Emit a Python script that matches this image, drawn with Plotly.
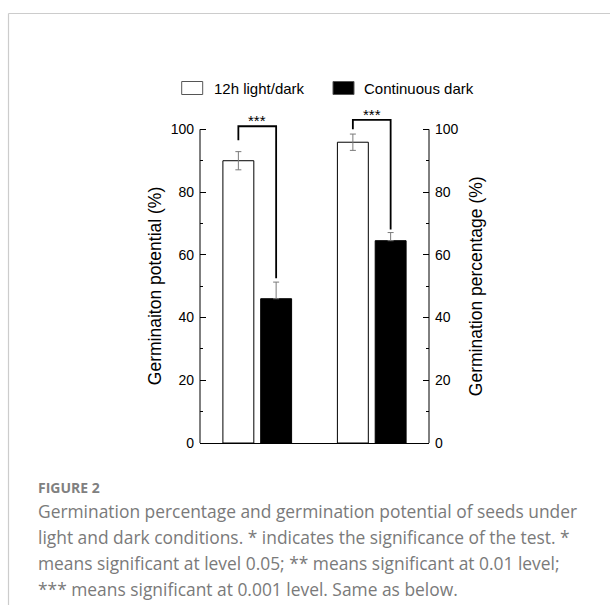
import plotly.graph_objects as go

# ---------------- data ----------------
groups = ["Germination potential", "Germination percentage"]
series_names = ["12h light/dark", "Continuous dark"]
light_vals = [90.0, 95.9]
light_err = [2.9, 2.6]
dark_vals = [46.0, 64.5]
dark_err = [5.3, 2.6]
sig_labels = ["***", "***"]
bracket_top = [101.0, 103.0]
bracket_left_end = [96.5, 100.0]
bracket_right_end = [52.5, 68.1]
y_ticks = [0, 20, 40, 60, 80, 100]
y_minor = [10, 30, 50, 70, 90]
left_title = "Germinaiton potential (%)"
right_title = "Germination percentage (%)"
caption_head = "FIGURE 2"
caption_lines = [
    "Germination percentage and germination potential of seeds under",
    "light and dark conditions. * indicates the significance of the test. *",
    "means significant at level 0.05; ** means significant at 0.01 level;",
    "*** means significant at 0.001 level. Same as below.",
]

# ---------------- geometry / style ----------------
W, H = 610, 605
ML, MR, MT, MB = 200, 181, 98, 162
BAR_W = 0.27
OFF_L, OFF_D = -0.30, 0.03
FONT = "Liberation Sans, Arial, sans-serif"
CAP_FONT = "Open Sans, Noto Sans, sans-serif"

pw = W - ML - MR
ph = H - MT - MB


def px_x(p):
    return (p - ML) / pw


def px_y(p):
    return (H - MB - p) / ph


fig = go.Figure()
axes = ["y", "y2"]
for i, ax in enumerate(axes):
    fig.add_trace(go.Bar(
        x=[i], y=[light_vals[i]], yaxis=ax, name=series_names[0],
        offset=OFF_L, width=BAR_W,
        marker=dict(color="white", line=dict(color="black", width=1)),
        error_y=dict(type="data", array=[light_err[i]], color="#7a7a7a",
                     thickness=1, width=3),
        showlegend=False,
    ))
    fig.add_trace(go.Bar(
        x=[i], y=[dark_vals[i]], yaxis=ax, name=series_names[1],
        offset=OFF_D, width=BAR_W,
        marker=dict(color="black", line=dict(color="black", width=1)),
        error_y=dict(type="data", symmetric=False, array=[dark_err[i]],
                     arrayminus=[0], color="#7a7a7a", thickness=1, width=3),
        showlegend=False,
    ))
    lc = i + OFF_L + BAR_W / 2
    dc = i + OFF_D + BAR_W / 2
    fig.add_trace(go.Scatter(
        x=[lc, lc, dc, dc],
        y=[bracket_left_end[i], bracket_top[i], bracket_top[i], bracket_right_end[i]],
        yaxis=ax, mode="lines", line=dict(color="black", width=1.8),
        showlegend=False, hoverinfo="skip",
    ))
    fig.add_annotation(x=i, y=bracket_top[i], xref="x", yref=ax,
                       text=sig_labels[i], showarrow=False, yanchor="bottom",
                       xanchor="center", yshift=-5,
                       font=dict(family=FONT, size=15, color="black"))

axis_common = dict(
    range=[0, 110], tickvals=y_ticks, ticks="inside", ticklen=6,
    tickcolor="black", tickwidth=1, showline=False, showgrid=False,
    zeroline=False, tickfont=dict(family=FONT, size=14, color="black"),
    ticklabelstandoff=5,
    minor=dict(tickvals=y_minor, ticks="inside", ticklen=3,
               tickcolor="black", tickwidth=1, showgrid=False),
)

fig.update_layout(
    width=W, height=H, margin=dict(l=ML, r=MR, t=MT, b=MB),
    paper_bgcolor="white", plot_bgcolor="white",
    barmode="overlay", showlegend=False,
    xaxis=dict(range=[-0.5, 1.5], showline=True, linecolor="black",
               linewidth=1, ticks="", showticklabels=False,
               showgrid=False, zeroline=False, fixedrange=True),
    yaxis=dict(**axis_common),
    yaxis2=dict(overlaying="y", side="right", **axis_common),
)

# axis lines (only up to 100)
fig.add_shape(type="line", xref="paper", yref="y", x0=0, x1=0, y0=0, y1=100,
              line=dict(color="black", width=1))
fig.add_shape(type="line", xref="paper", yref="y", x0=1, x1=1, y0=0, y1=100,
              line=dict(color="black", width=1))

# axis titles
fig.add_annotation(x=px_x(155), y=50, xref="paper", yref="y", text=left_title,
                   textangle=-90, showarrow=False, xanchor="center", yanchor="middle",
                   font=dict(family=FONT, size=17.5, color="black"))
fig.add_annotation(x=px_x(476), y=50, xref="paper", yref="y", text=right_title,
                   textangle=-90, showarrow=False, xanchor="center", yanchor="middle",
                   font=dict(family=FONT, size=17.5, color="black"))

# legend (manual)
leg = [(181.7, 202.7, 211.7, "white"), (333.0, 354.0, 362.0, "black")]
for (bx0, bx1, tx, col), name in zip(leg, series_names):
    fig.add_shape(type="rect", xref="paper", yref="paper",
                  x0=px_x(bx0), x1=px_x(bx1), y0=px_y(94.5), y1=px_y(81.5),
                  fillcolor=col, line=dict(color="#555555", width=1))
    fig.add_annotation(x=px_x(tx), y=px_y(88), xref="paper", yref="paper",
                       text=name, showarrow=False, xanchor="left", yanchor="middle",
                       font=dict(family=FONT, size=15, color="black"))

# card border
fig.add_shape(type="line", xref="paper", yref="paper",
              x0=px_x(8.5), x1=px_x(8.5), y0=px_y(13.5), y1=px_y(700),
              line=dict(color="#cccccc", width=1.2))
fig.add_shape(type="line", xref="paper", yref="paper",
              x0=px_x(8.5), x1=px_x(700), y0=px_y(13.5), y1=px_y(13.5),
              line=dict(color="#cccccc", width=1.2))

# caption
fig.add_annotation(x=px_x(36), y=px_y(487), xref="paper", yref="paper",
                   text="<b>" + caption_head + "</b>", showarrow=False,
                   xanchor="left", yanchor="middle",
                   font=dict(family=CAP_FONT, size=14, color="#808080"))
for k, line in enumerate(caption_lines):
    fig.add_annotation(x=px_x(36), y=px_y(511 + 26 * k), xref="paper", yref="paper",
                       text=line, showarrow=False, xanchor="left", yanchor="middle",
                       font=dict(family=CAP_FONT, size=17.4, color="#7a7a7a"))

fig.write_html("out.html")
